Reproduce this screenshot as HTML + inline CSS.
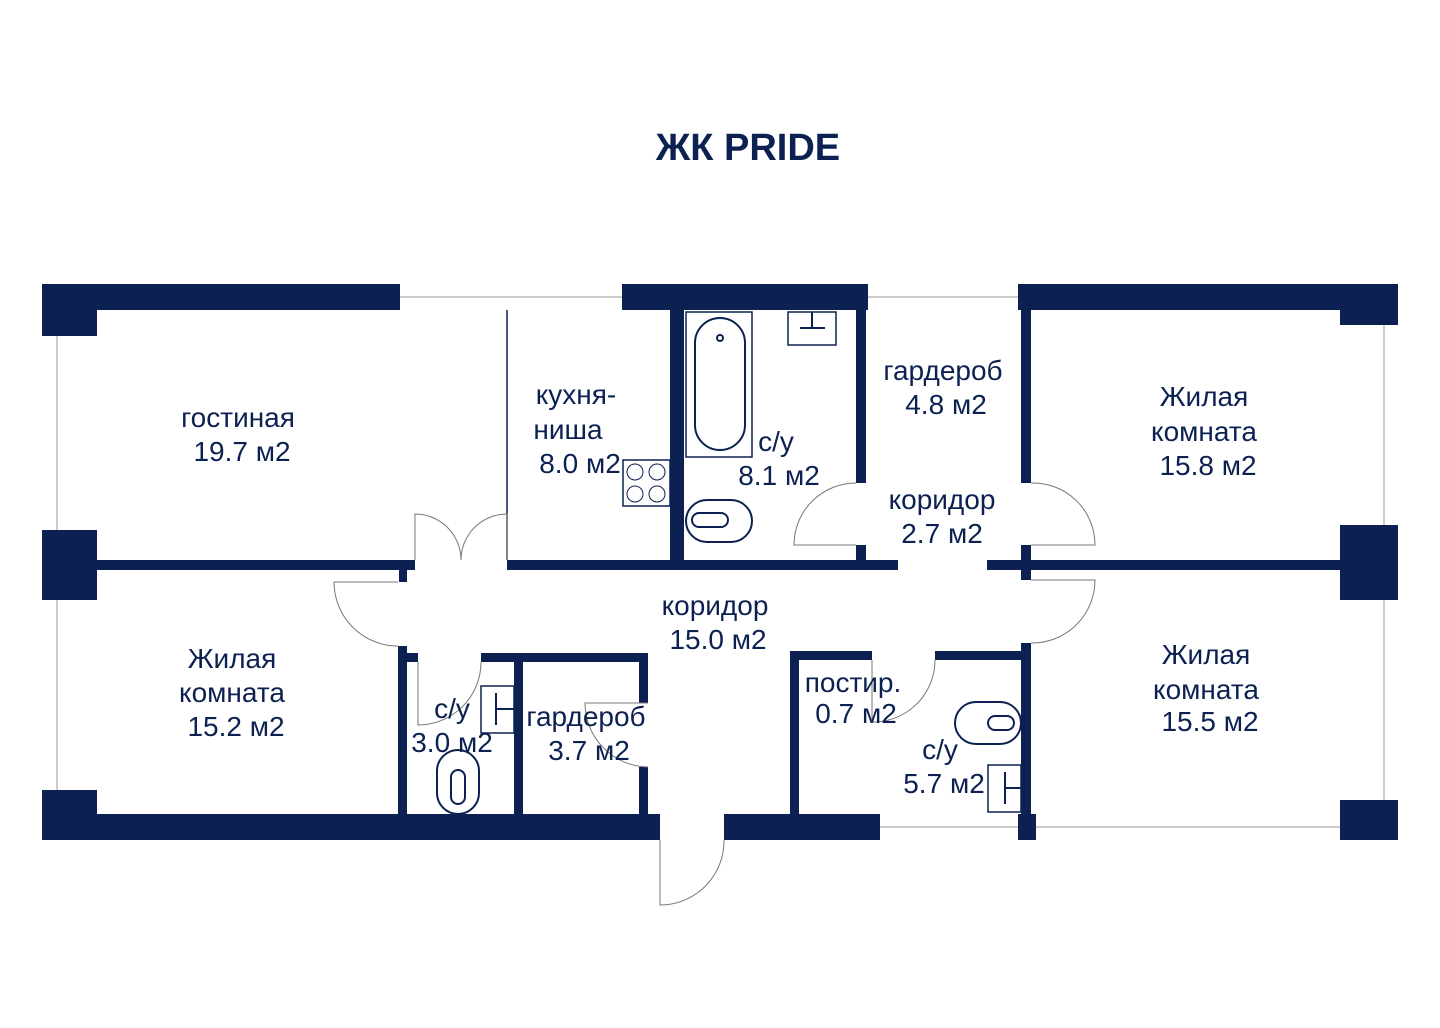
<!DOCTYPE html>
<html><head><meta charset="utf-8"><style>
html,body{margin:0;padding:0;background:#fff}
svg{display:block}
text{font-family:"Liberation Sans",sans-serif;font-size:28px;fill:#0c2152;text-anchor:middle}
</style></head><body>
<svg width="1440" height="1028" viewBox="0 0 1440 1028" xmlns="http://www.w3.org/2000/svg">
<text x="748" y="160" style="font-size:38px;font-weight:bold">ЖК PRIDE</text>
<g fill="#0c2152">
<rect x="42" y="284" width="358" height="26"/>
<rect x="622" y="284" width="246" height="26"/>
<rect x="1018" y="284" width="380" height="26"/>
<rect x="42" y="284" width="55" height="52"/>
<rect x="42" y="530" width="55" height="70"/>
<rect x="42" y="790" width="55" height="50"/>
<rect x="1340" y="284" width="58" height="41"/>
<rect x="1340" y="525" width="58" height="75"/>
<rect x="1340" y="800" width="58" height="40"/>
<rect x="42" y="814" width="618" height="26"/>
<rect x="724" y="814" width="156" height="26"/>
<rect x="1018" y="814" width="18" height="26"/>
<rect x="97" y="560" width="318" height="10"/>
<rect x="507" y="560" width="391" height="10"/>
<rect x="987" y="560" width="353" height="10"/>
<rect x="399" y="570" width="8" height="12"/>
<rect x="670" y="310" width="14" height="250"/>
<rect x="856" y="310" width="10" height="173"/>
<rect x="856" y="545" width="10" height="15"/>
<rect x="1021" y="310" width="10" height="173"/>
<rect x="1021" y="545" width="10" height="35"/>
<rect x="1021" y="643" width="10" height="171"/>
<rect x="398" y="646" width="9" height="168"/>
<rect x="398" y="653" width="20" height="9"/>
<rect x="481" y="653" width="167" height="9"/>
<rect x="514" y="662" width="9" height="152"/>
<rect x="639" y="653" width="9" height="50"/>
<rect x="639" y="767" width="9" height="47"/>
<rect x="790" y="651" width="9" height="163"/>
<rect x="790" y="651" width="82" height="9"/>
<rect x="935" y="651" width="86" height="9"/>
</g>
<g stroke="#0c2152" fill="none" stroke-width="1">
<line x1="400" y1="297" x2="622" y2="297" stroke="#999"/>
<line x1="868" y1="297" x2="1018" y2="297" stroke="#999"/>
<line x1="57" y1="336" x2="57" y2="530" stroke="#999"/>
<line x1="57" y1="600" x2="57" y2="790" stroke="#999"/>
<line x1="1384" y1="325" x2="1384" y2="525" stroke="#999"/>
<line x1="1384" y1="600" x2="1384" y2="800" stroke="#999"/>
<line x1="880" y1="827" x2="1018" y2="827" stroke="#999"/>
<line x1="1036" y1="827" x2="1340" y2="827" stroke="#999"/>
<line x1="507" y1="310" x2="507" y2="560" stroke-width="1.5"/>
<g stroke="#777">
<path d="M415 560 V514 A46 46 0 0 1 461 560"/>
<path d="M507 560 V514 A46 46 0 0 0 461 560"/>
<path d="M398 582 H334 A64 64 0 0 0 398 646"/>
<path d="M660 840 V905 A64 64 0 0 0 724 840"/>
<path d="M856 545 H794 A62 62 0 0 1 856 483"/>
<path d="M1031 545 H1095 A62 62 0 0 0 1031 483"/>
<path d="M1031 580 H1095 A63 63 0 0 1 1031 643"/>
<path d="M418 662 V725 A63 63 0 0 0 481 662"/>
<path d="M648 703 H585 A64 64 0 0 0 648 767"/>
<path d="M872 660 V722 A62 62 0 0 0 935 660"/>
</g>
<rect x="686" y="312" width="66" height="145" stroke-width="1.5"/>
<rect x="695" y="318" width="50" height="132" rx="25" stroke-width="2"/>
<circle cx="720" cy="338" r="3" stroke-width="2"/>
<rect x="788" y="312" width="48" height="33" stroke-width="1.5"/>
<path d="M812 312 V328 M800 328 H825" stroke-width="2"/>
<rect x="686" y="500" width="66" height="42" rx="21" stroke-width="2"/>
<rect x="692" y="513" width="36" height="14" rx="7" stroke-width="2"/>
<rect x="623" y="460" width="47" height="46" stroke-width="1.5"/>
<circle cx="635" cy="472" r="8"/><circle cx="657" cy="472" r="8"/>
<circle cx="635" cy="494" r="8"/><circle cx="657" cy="494" r="8"/>
<rect x="481" y="686" width="33" height="47" stroke-width="1.5"/>
<path d="M496 693 V725 M496 709 H514" stroke-width="2"/>
<rect x="437" y="750" width="42" height="64" rx="21" stroke-width="2"/>
<rect x="451" y="770" width="14" height="34" rx="7" stroke-width="2"/>
<rect x="955" y="702" width="66" height="42" rx="21" stroke-width="2"/>
<rect x="988" y="716" width="26" height="14" rx="7" stroke-width="2"/>
<rect x="988" y="765" width="33" height="47" stroke-width="1.5"/>
<path d="M1005 772 V804 M1005 788 H1021" stroke-width="2"/>
</g>
<g>
<text x="238" y="427">гостиная</text><text x="242" y="461">19.7 м2</text>
<text x="576" y="404">кухня-</text><text x="568" y="439">ниша</text><text x="580" y="473">8.0 м2</text>
<text x="776" y="451">с/у</text><text x="779" y="485">8.1 м2</text>
<text x="943" y="380">гардероб</text><text x="946" y="414">4.8 м2</text>
<text x="942" y="509">коридор</text><text x="942" y="543">2.7 м2</text>
<text x="1204" y="406">Жилая</text><text x="1204" y="441">комната</text><text x="1208" y="475">15.8 м2</text>
<text x="715" y="615">коридор</text><text x="718" y="649">15.0 м2</text>
<text x="232" y="668">Жилая</text><text x="232" y="702">комната</text><text x="236" y="736">15.2 м2</text>
<text x="452" y="718">с/у</text><text x="452" y="752">3.0 м2</text>
<text x="586" y="726">гардероб</text><text x="589" y="760">3.7 м2</text>
<text x="853" y="692">постир.</text><text x="856" y="723">0.7 м2</text>
<text x="940" y="759">с/у</text><text x="944" y="793">5.7 м2</text>
<text x="1206" y="664">Жилая</text><text x="1206" y="699">комната</text><text x="1210" y="731">15.5 м2</text>
</g>
</svg>
</body></html>
